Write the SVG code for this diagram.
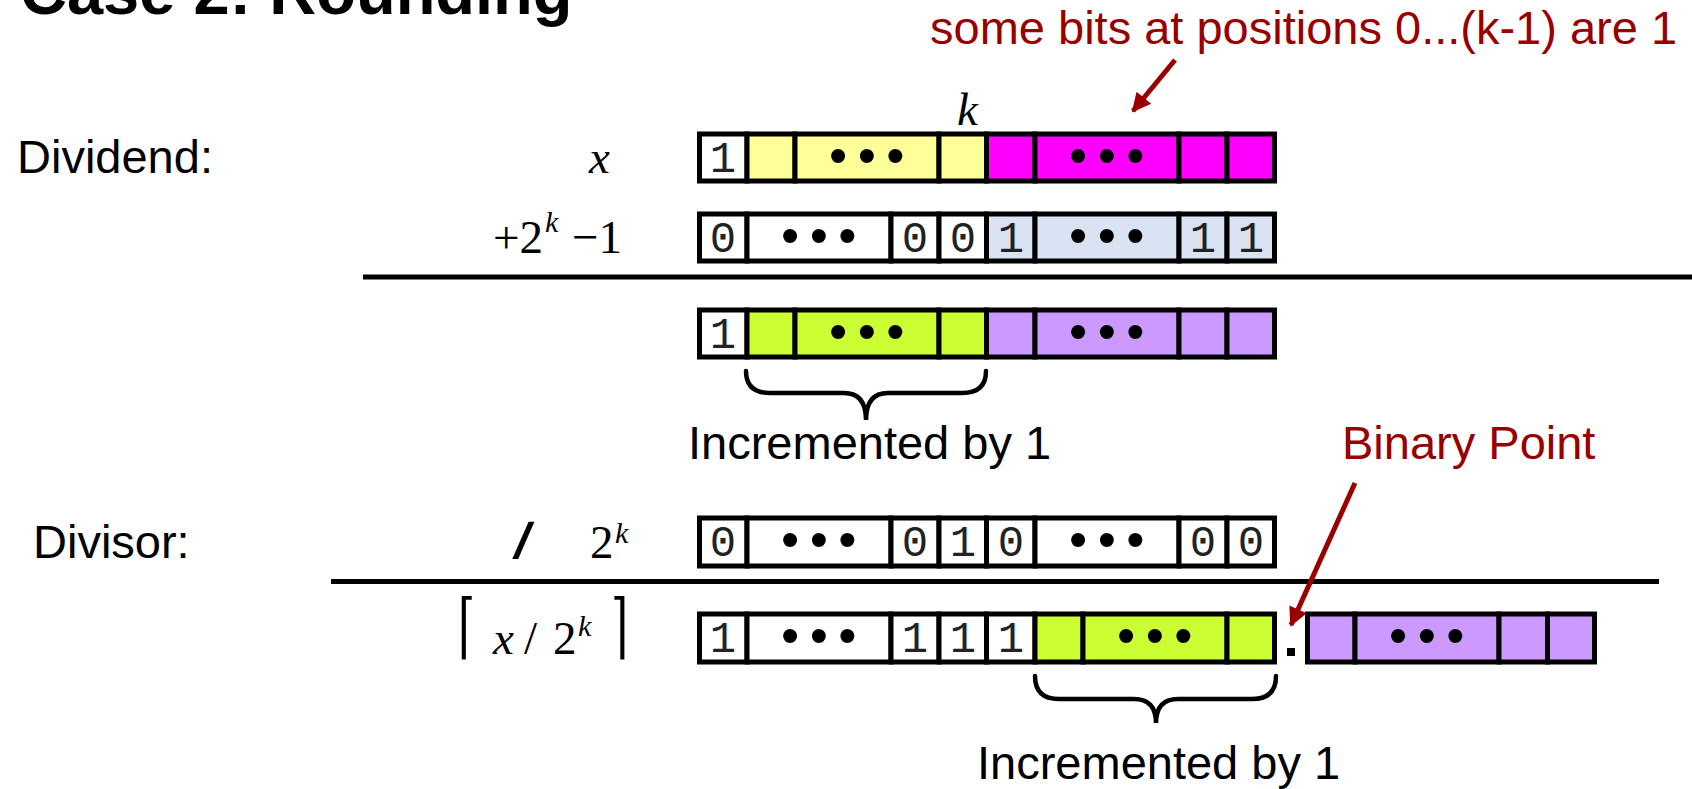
<svg xmlns="http://www.w3.org/2000/svg" width="1692" height="789" viewBox="0 0 1692 789">
<defs>
<style>
.c{stroke:#000;stroke-width:5}
.w{fill:#fff}.y{fill:#FFFF99}.m{fill:#FF00FF}.b{fill:#DAE3F3}.g{fill:#CCFF33}.p{fill:#CC99FF}
.d{font-family:"Liberation Mono",monospace;font-size:44px;fill:#222;text-anchor:middle}
.dots{font-family:"Liberation Sans",Arial,sans-serif;font-size:52px;letter-spacing:10.5px;fill:#000;text-anchor:middle}
.lbl{font-family:"Liberation Sans",Arial,sans-serif;font-size:47px;fill:#000}
.red{font-family:"Liberation Sans",Arial,sans-serif;font-size:47px;fill:#990000}
.tm{font-family:"Liberation Serif","Times New Roman",serif;font-size:47px;fill:#000}
.sup{font-size:30px}
.it{font-style:italic}
.ceil{font-family:"DejaVu Serif",serif;font-size:44px;fill:#000}
.br{fill:none;stroke:#000;stroke-width:4.5;stroke-linecap:round}
.arr{stroke:#990000;stroke-width:5;fill:none}
</style>
<marker id="ah" viewBox="0 0 10 10" refX="9" refY="5" markerWidth="24" markerHeight="19" markerUnits="userSpaceOnUse" orient="auto">
<path d="M0,0 L10,5 L0,10 z" fill="#990000"/>
</marker>
</defs>

<g id="title"><text x="20" y="14" font-family="Liberation Sans,Arial,sans-serif" font-weight="bold" font-size="65">Case 2: Rounding</text></g>

<g id="labels">
<text class="lbl" x="17" y="173">Dividend:</text>
<text class="lbl" x="33" y="558">Divisor:</text>
<text class="tm it" x="589" y="173">x</text>
<text class="tm it" x="957" y="125">k</text>
<text class="tm" x="493" y="253">+2</text>
<text class="tm it sup" x="545" y="232">k</text>
<text class="tm" x="572" y="253">−1</text>
<text x="0" y="0" font-family="Liberation Sans,Arial,sans-serif" font-weight="bold" font-size="50" transform="translate(512,558) skewX(-14)">/</text>
<text class="tm" x="590" y="558">2</text>
<text class="tm it sup" x="615" y="543">k</text>
<text class="ceil" transform="translate(458,650) scale(1,1.62)">⌈</text>
<text class="tm it" x="493" y="654">x</text>
<text class="tm" x="524" y="654">/</text>
<text class="tm" x="553" y="654">2</text>
<text class="tm it sup" x="578" y="636">k</text>
<text class="ceil" transform="translate(611,650) scale(1,1.62)">⌉</text>
</g>

<g id="row-x">
<rect class="c w" x="699.5" y="134" width="47.5" height="47"/>
<rect class="c y" x="747" y="134" width="48" height="47"/>
<rect class="c y" x="795" y="134" width="144" height="47"/>
<rect class="c y" x="939" y="134" width="47.5" height="47"/>
<rect class="c m" x="986.5" y="134" width="48.5" height="47"/>
<rect class="c m" x="1035" y="134" width="144" height="47"/>
<rect class="c m" x="1179" y="134" width="48" height="47"/>
<rect class="c m" x="1227" y="134" width="47.5" height="47"/>
<text class="d" x="723" y="172">1</text>
<text class="dots" x="872" y="173">•••</text>
<text class="dots" x="1112" y="173">•••</text>
</g>

<g id="row-add">
<rect class="c w" x="699.5" y="214" width="47.5" height="47"/>
<rect class="c w" x="747" y="214" width="144" height="47"/>
<rect class="c w" x="891" y="214" width="48" height="47"/>
<rect class="c w" x="939" y="214" width="47.5" height="47"/>
<rect class="c b" x="986.5" y="214" width="48.5" height="47"/>
<rect class="c b" x="1035" y="214" width="144" height="47"/>
<rect class="c b" x="1179" y="214" width="48" height="47"/>
<rect class="c b" x="1227" y="214" width="47.5" height="47"/>
<text class="d" x="723" y="252">0</text>
<text class="dots" x="824" y="253">•••</text>
<text class="d" x="915" y="252">0</text>
<text class="d" x="963" y="252">0</text>
<text class="d" x="1011" y="252">1</text>
<text class="dots" x="1112" y="253">•••</text>
<text class="d" x="1203" y="252">1</text>
<text class="d" x="1251" y="252">1</text>
</g>

<g id="row-sum">
<rect class="c w" x="699.5" y="310" width="47.5" height="47"/>
<rect class="c g" x="747" y="310" width="48" height="47"/>
<rect class="c g" x="795" y="310" width="144" height="47"/>
<rect class="c g" x="939" y="310" width="47.5" height="47"/>
<rect class="c p" x="986.5" y="310" width="48.5" height="47"/>
<rect class="c p" x="1035" y="310" width="144" height="47"/>
<rect class="c p" x="1179" y="310" width="48" height="47"/>
<rect class="c p" x="1227" y="310" width="47.5" height="47"/>
<text class="d" x="723" y="348">1</text>
<text class="dots" x="872" y="349">•••</text>
<text class="dots" x="1112" y="349">•••</text>
</g>

<g id="row-divisor">
<rect class="c w" x="699.5" y="518" width="47.5" height="48"/>
<rect class="c w" x="747" y="518" width="144" height="48"/>
<rect class="c w" x="891" y="518" width="48" height="48"/>
<rect class="c w" x="939" y="518" width="47.5" height="48"/>
<rect class="c w" x="986.5" y="518" width="48.5" height="48"/>
<rect class="c w" x="1035" y="518" width="144" height="48"/>
<rect class="c w" x="1179" y="518" width="48" height="48"/>
<rect class="c w" x="1227" y="518" width="47.5" height="48"/>
<text class="d" x="723" y="556">0</text>
<text class="dots" x="824" y="557">•••</text>
<text class="d" x="915" y="556">0</text>
<text class="d" x="963" y="556">1</text>
<text class="d" x="1011" y="556">0</text>
<text class="dots" x="1112" y="557">•••</text>
<text class="d" x="1203" y="556">0</text>
<text class="d" x="1251" y="556">0</text>
</g>

<g id="row-result">
<rect class="c w" x="699.5" y="614" width="47.5" height="48"/>
<rect class="c w" x="747" y="614" width="144" height="48"/>
<rect class="c w" x="891" y="614" width="48" height="48"/>
<rect class="c w" x="939" y="614" width="47.5" height="48"/>
<rect class="c w" x="986.5" y="614" width="48.5" height="48"/>
<rect class="c g" x="1035" y="614" width="48" height="48"/>
<rect class="c g" x="1083" y="614" width="144" height="48"/>
<rect class="c g" x="1227" y="614" width="47.5" height="48"/>
<text class="d" x="723" y="652">1</text>
<text class="dots" x="824" y="653">•••</text>
<text class="d" x="915" y="652">1</text>
<text class="d" x="963" y="652">1</text>
<text class="d" x="1011" y="652">1</text>
<text class="dots" x="1160" y="653">•••</text>
</g>

<g id="binary-dot"><rect x="1287" y="648" width="8" height="8" fill="#000"/></g>

<g id="row-fraction">
<rect class="c p" x="1307.5" y="614" width="47.5" height="48"/>
<rect class="c p" x="1355" y="614" width="144" height="48"/>
<rect class="c p" x="1499" y="614" width="48.5" height="48"/>
<rect class="c p" x="1547.5" y="614" width="47" height="48"/>
<text class="dots" x="1432" y="653">•••</text>
</g>

<g id="rules">
<line x1="363" y1="277" x2="1692" y2="277" stroke="#000" stroke-width="5"/>
<line x1="331" y1="581.5" x2="1659" y2="581.5" stroke="#000" stroke-width="5"/>
</g>

<g id="brace1">
<path class="br" d="M746,371 Q746,393 770,393 L844,393 Q866,393 866,420 Q866,393 888,393 L962,393 Q986,393 986,371"/>
<text class="lbl" x="688" y="459">Incremented by 1</text>
</g>

<g id="brace2">
<path class="br" d="M1035,676 Q1035,699 1059,699 L1134,699 Q1156,699 1156,723 Q1156,699 1178,699 L1252,699 Q1276,699 1276,676"/>
<text class="lbl" x="977" y="779">Incremented by 1</text>
</g>

<g id="note-bits"><text class="red" x="930" y="44">some bits at positions 0...(k-1) are 1</text></g>
<g id="note-point"><text class="red" x="1342" y="459">Binary Point</text></g>

<g id="connectors">
<line class="arr" x1="1175" y1="60" x2="1133" y2="111" marker-end="url(#ah)"/>
<line class="arr" x1="1355" y1="483" x2="1291" y2="625" marker-end="url(#ah)"/>
</g>
</svg>
